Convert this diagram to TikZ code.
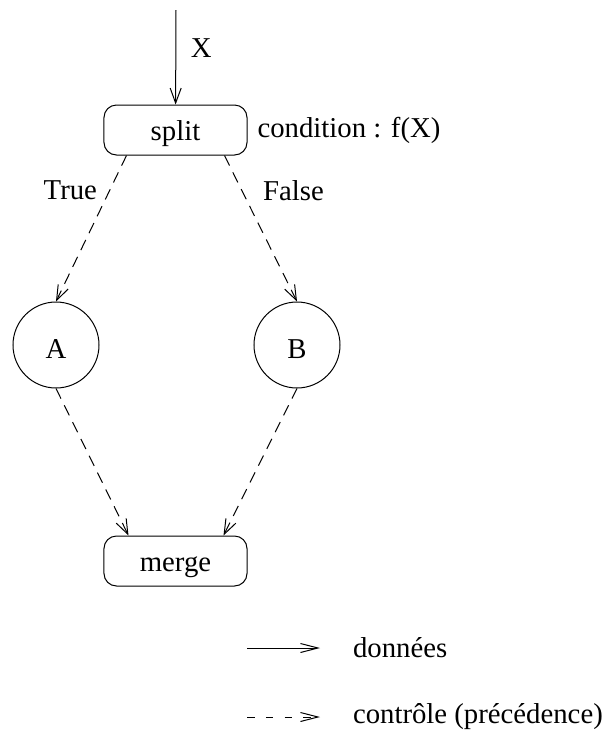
\documentclass[tikz,border=0pt]{standalone}
\usepackage{fontspec}
\setmainfont{Liberation Serif}
\usetikzlibrary{positioning,arrows.meta}

\begin{document}
\begin{tikzpicture}[x=0.4pt,y=-0.4pt,
 >={Straight Barb[length=6pt,width=4.4pt]},
 font=\fontsize{11.5pt}{14pt}\selectfont,
 block/.style={draw,rounded corners=5pt,minimum width=57.2pt,minimum height=20pt,inner sep=0pt,
  text height=8.4pt,text depth=0pt},
 task/.style={draw,circle,minimum size=34.4pt,inner sep=0pt,text height=11pt,text depth=0pt},
 ctrl/.style={->,dash pattern=on 4.5pt off 3pt}]
 \useasboundingbox (0,0) rectangle (608,735);

 \coordinate (entry) at (176,10);
 \node[block] (split) at (175.5,130) {split};
 \node[right=0.5pt of split] (cond) {condition : f(X)};
 \node[task] (A) at (56,345) {A};
 \node[task] (B) at (297,345) {B};
 \node[block] (merge) at (175.5,561) {merge};

 \draw [->] (entry) -- node[pos=0.4,right=2.5pt] {X} (split);
 \draw [ctrl] ([xshift=9.2pt]split.south west) --
 node[pos=0.24,left=1.5pt] {True} (A.north);
 \draw [ctrl] ([xshift=-9.2pt]split.south east) --
 node[pos=0.24,right=5pt] {False} (B.north);
 \draw [ctrl] (A.south) -- ([xshift=10pt]merge.north west);
 \draw [ctrl] (B.south) -- ([xshift=-9.6pt]merge.north east);

% legende
 \coordinate (datastart) at (247,648);
 \coordinate (dataend) at (320,648);
 \node[right=13pt of dataend,inner sep=0pt] (datalabel) {données};
 \draw [->,>={Straight Barb[length=7pt,width=3.6pt]}] (datastart) -- (dataend);
 \coordinate (ctrlstart) at (247,717);
 \coordinate (ctrlend) at (320,717);
 \node[right=13pt of ctrlend,inner sep=0pt] (ctrllabel) {contrôle (précédence)};
 \draw [->,>={Straight Barb[length=7pt,width=3.6pt]},dash pattern=on 3pt off 4.5pt] (ctrlstart) -- (ctrlend);
\end{tikzpicture}
\end{document}
